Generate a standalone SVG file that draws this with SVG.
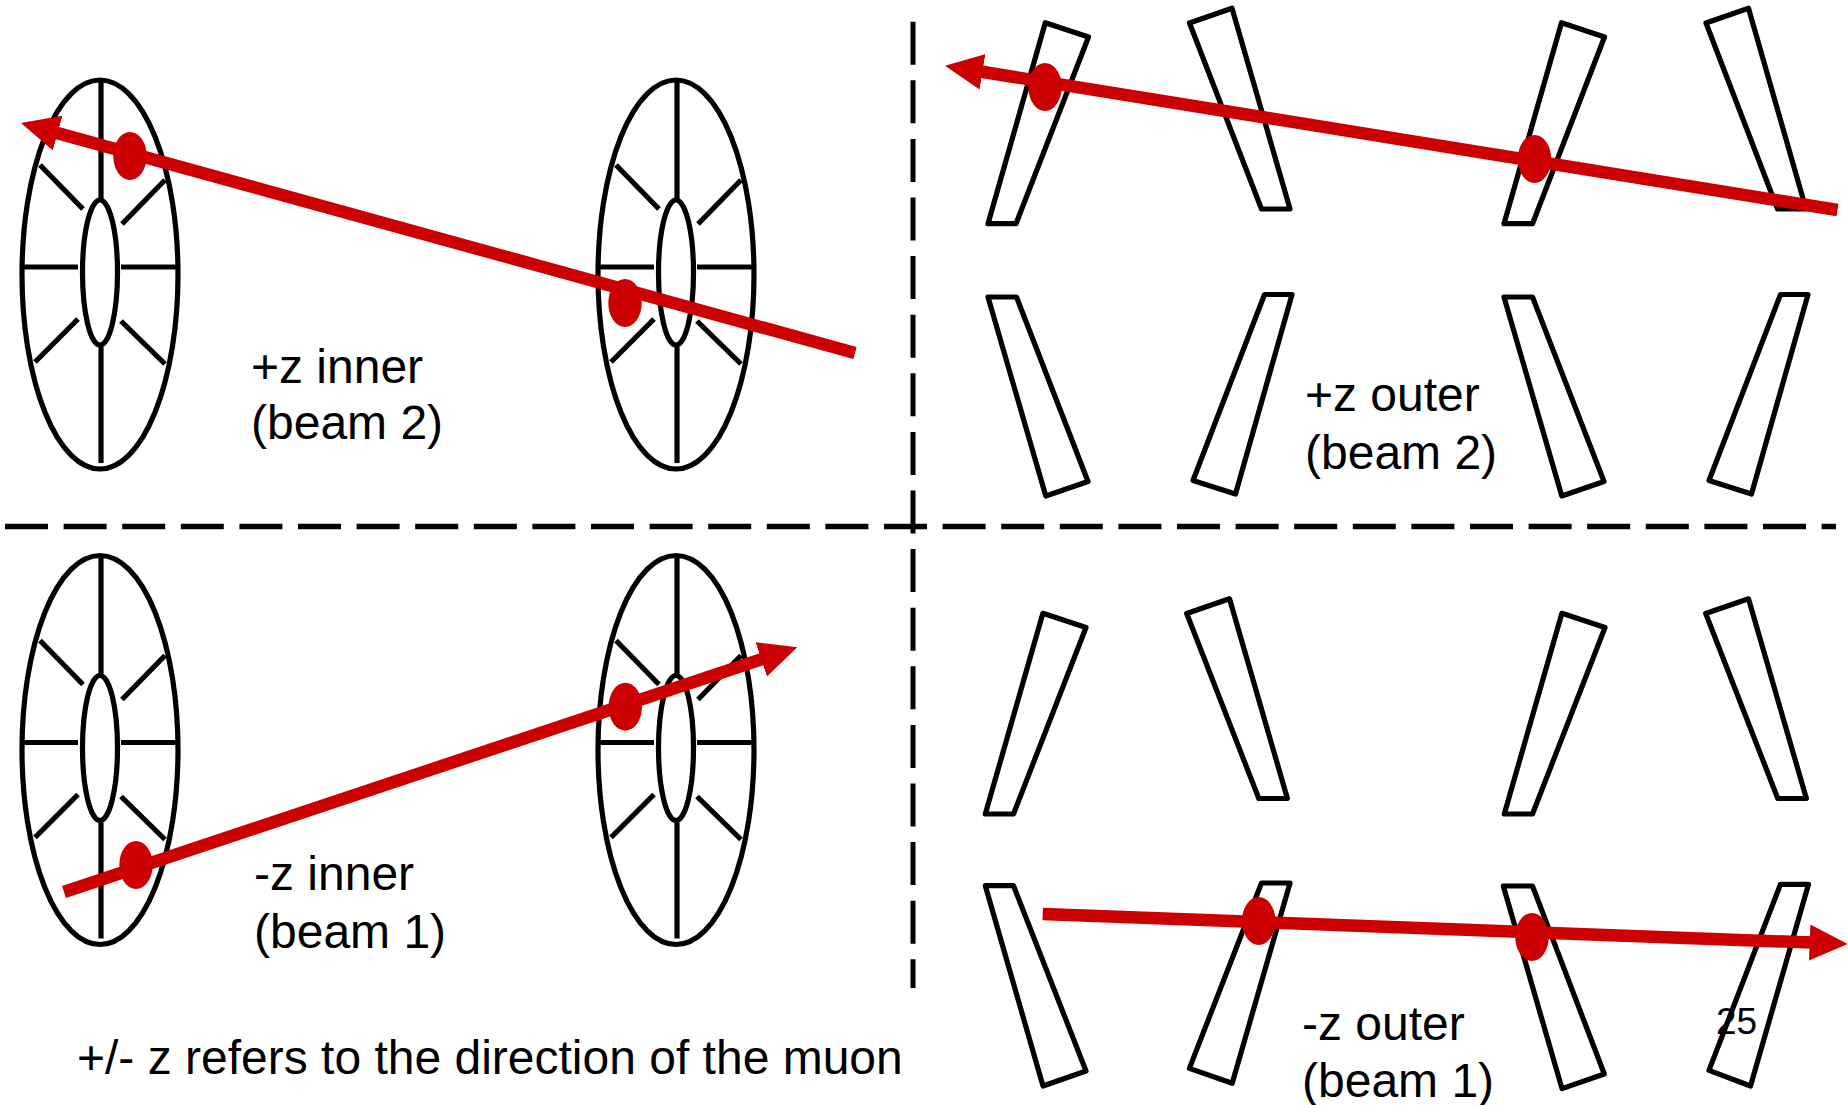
<svg xmlns="http://www.w3.org/2000/svg" xmlns:xlink="http://www.w3.org/1999/xlink" width="1848" height="1105" viewBox="0 0 1848 1105">
<style>
.s{fill:none;stroke:#000;stroke-width:5.2;stroke-linejoin:round}
.d{fill:none;stroke:#000;stroke-width:5.5;stroke-dasharray:43 15.6}
.r{fill:none;stroke:#c00;stroke-width:12.5;marker-end:url(#ah)}
.h{fill:#c00}
text{font-family:"Liberation Sans",Arial,sans-serif;font-size:48px;fill:#000}
</style>
<defs>
<marker id="ah" markerUnits="userSpaceOnUse" markerWidth="38" markerHeight="36" viewBox="0 -18 38 36" refX="2" refY="0" orient="auto"><path d="M0,-18L38,0L0,18Z" fill="#c00"/></marker>
<g id="disk" class="s">
<ellipse cx="100" cy="274.5" rx="78" ry="194.5"/>
<ellipse cx="100" cy="272.5" rx="17.5" ry="72.5"/>
<path d="M101,79V199M101,347V463M22,267H78M121,267H176M40,165L83,209M165,180L122,224M78,319L35,362M121,321L165,364"/>
</g>
</defs>
<rect width="1848" height="1105" fill="#fff"/>
<g id="dividers">
<path class="d" d="M5,526.5H1836"/>
<path class="d" style="stroke-width:5" d="M913,21.7V988"/>
</g>
<g id="disk-plus-1"><use xlink:href="#disk" href="#disk"/></g>
<g id="disk-plus-2"><use xlink:href="#disk" href="#disk" x="576"/></g>
<g id="disk-minus-1"><use xlink:href="#disk" href="#disk" y="475.5"/></g>
<g id="disk-minus-2"><use xlink:href="#disk" href="#disk" x="576" y="475.5"/></g>
<g id="plus-outer-top">
<polygon class="s" points="1045.3,22.7 1088.5,37 1016,223.7 988,223.7"/>
<polygon class="s" points="1189.5,23 1232,8.3 1290,209 1261.5,209"/>
<polygon class="s" points="1561.5,22.7 1604.5,37 1532.5,223.7 1504,223.7"/>
<polygon class="s" points="1706,23 1748.5,8.3 1806,209 1777.5,209"/>
</g>
<g id="plus-outer-bottom">
<polygon class="s" points="988,297 1016.5,297 1088,481.5 1045.8,496"/>
<polygon class="s" points="1264.5,294.5 1292,294.5 1235.5,494 1193,480.5"/>
<polygon class="s" points="1504,297 1532.5,297 1604,481.5 1561.8,496"/>
<polygon class="s" points="1780.5,294.5 1808,294.5 1751.5,494 1709,480.5"/>
</g>
<g id="minus-outer-top">
<polygon class="s" points="1042.9,613.3 1086,627.5 1013.5,814 985.3,814"/>
<polygon class="s" points="1186.7,613.5 1229.5,598.8 1287.4,798.5 1258.8,798.5"/>
<polygon class="s" points="1561.9,613.3 1605,627.5 1532.5,814 1504.3,814"/>
<polygon class="s" points="1705.7,613.5 1748.5,598.8 1806.4,798.5 1777.8,798.5"/>
</g>
<g id="minus-outer-bottom">
<polygon class="s" points="985.3,885.7 1013.5,885.7 1086,1071 1043,1086"/>
<polygon class="s" points="1261.5,883 1290,883 1232.2,1083.3 1189.4,1068.4"/>
<polygon class="s" points="1503.3,886 1532.5,886 1604.3,1074 1562,1088.6"/>
<polygon class="s" points="1780.5,884.3 1808.5,884.3 1750.5,1086 1709,1070.4"/>
</g>
<g id="connectors">
<path class="r" d="M855,353L55.7,132.6"/>
<path class="r" d="M1837.5,210L980.5,71.5"/>
<path class="r" d="M64,892L763.2,658.7"/>
<path class="r" d="M1042.7,914L1811.7,942.6"/>
</g>
<g id="hits">
<ellipse class="h" cx="130" cy="156" rx="16.7" ry="24"/>
<ellipse class="h" cx="625" cy="303" rx="16.7" ry="24"/>
<ellipse class="h" cx="1045" cy="87" rx="16.7" ry="24"/>
<ellipse class="h" cx="1534.5" cy="159" rx="16.7" ry="24"/>
<ellipse class="h" cx="625.3" cy="706.7" rx="16.7" ry="24"/>
<ellipse class="h" cx="136" cy="865" rx="16.7" ry="24"/>
<ellipse class="h" cx="1258.7" cy="921" rx="16.7" ry="24"/>
<ellipse class="h" cx="1532" cy="937" rx="16.7" ry="24"/>
</g>
<g id="labels">
<text x="251" y="383">+z inner</text>
<text x="251" y="439">(beam 2)</text>
<text x="1305" y="411">+z outer</text>
<text x="1305" y="469">(beam 2)</text>
<text x="254" y="890">-z inner</text>
<text x="254" y="948">(beam 1)</text>
<text x="1302" y="1040">-z outer</text>
<text x="1302" y="1097">(beam 1)</text>
<text x="77" y="1074">+/- z refers to the direction of the muon</text>
<text x="1716" y="1034" style="font-size:37px">25</text>
</g>
</svg>
